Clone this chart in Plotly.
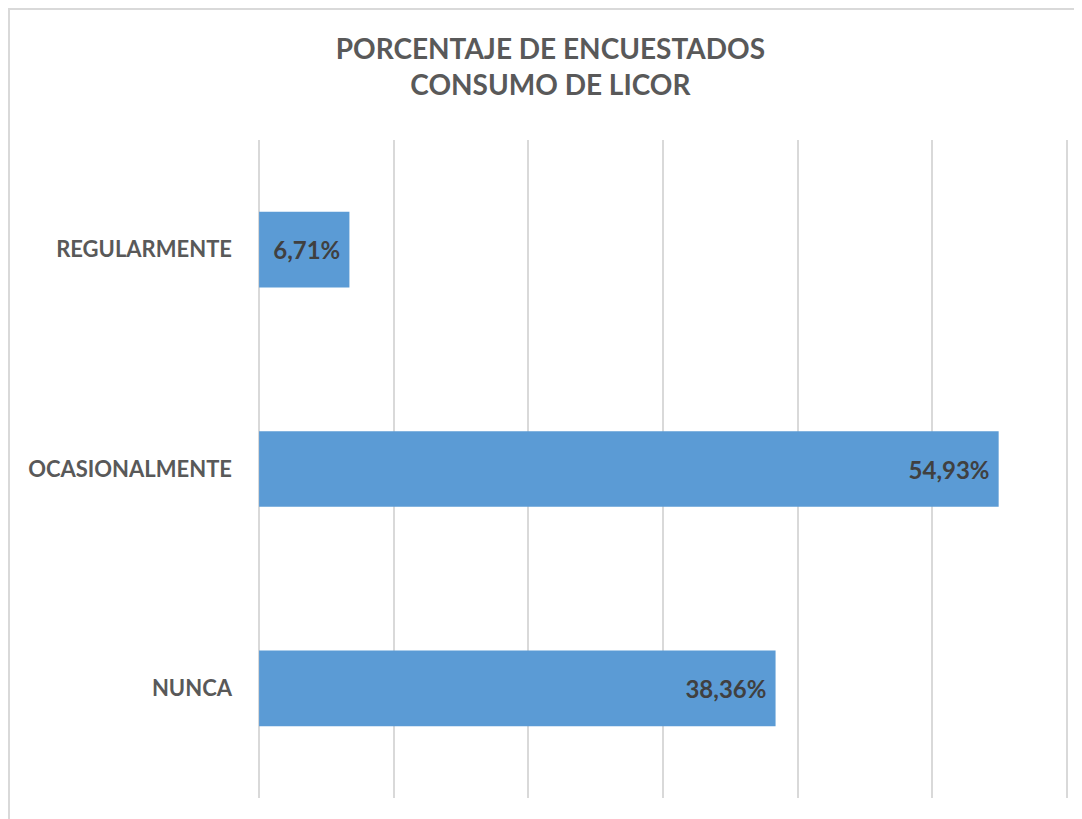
import plotly.graph_objects as go

# Datos del gráfico
categorias = ['NUNCA', 'OCASIONALMENTE', 'REGULARMENTE']
porcentajes = [0.3836, 0.5493, 0.0671]

color_barra = '#5B9BD5'
gris_texto = '#595959'
fuente = 'Lato, Open Sans, sans-serif'

fig = go.Figure()

fig.add_trace(go.Bar(
    x=porcentajes,
    y=categorias,
    orientation='h',
    marker=dict(color=color_barra, line=dict(width=0)),
    texttemplate='<b>%{x:.2%}</b>\u00a0',
    textposition='inside',
    insidetextanchor='end',
    textfont=dict(family=fuente, size=24, color='#404040'),
    hoverinfo='skip',
    showlegend=False
))

# Borde del área del gráfico (recortado a la derecha y abajo)
fig.add_shape(
    type='rect', xref='paper', yref='paper',
    x0=-0.3074, x1=1.2, y0=-0.2, y1=1.1991,
    line=dict(color='#D9D9D9', width=2),
    fillcolor='rgba(0,0,0,0)',
    layer='below'
)

fig.update_layout(
    width=1074,
    height=811,
    margin=dict(l=250, r=14, t=132, b=21),
    paper_bgcolor='white',
    plot_bgcolor='white',
    separators=',.',
    bargap=0.655,
    title=dict(
        text='<b>PORCENTAJE DE ENCUESTADOS<br>CONSUMO DE LICOR</b>',
        xref='container', x=0.505, xanchor='center',
        yref='container', y=0.937, yanchor='top',
        font=dict(family=fuente, size=28, color=gris_texto)
    ),
    xaxis=dict(
        range=[-0.0008, 0.6008],
        dtick=0.1,
        tick0=0,
        showgrid=True,
        gridcolor='#D9D9D9',
        gridwidth=2,
        zeroline=True,
        zerolinecolor='#D9D9D9',
        zerolinewidth=2,
        showline=False,
        showticklabels=False,
        fixedrange=True
    ),
    yaxis=dict(
        showgrid=False,
        showline=False,
        zeroline=False,
        ticks='',
        ticklabelstandoff=25,
        tickfont=dict(family=fuente, size=22, color=gris_texto),
        fixedrange=True
    ),
    font=dict(family=fuente)
)

fig.update_yaxes(tickprefix='<b>', ticksuffix='</b>')

fig.write_html('out.html', config={'displayModeBar': False})
